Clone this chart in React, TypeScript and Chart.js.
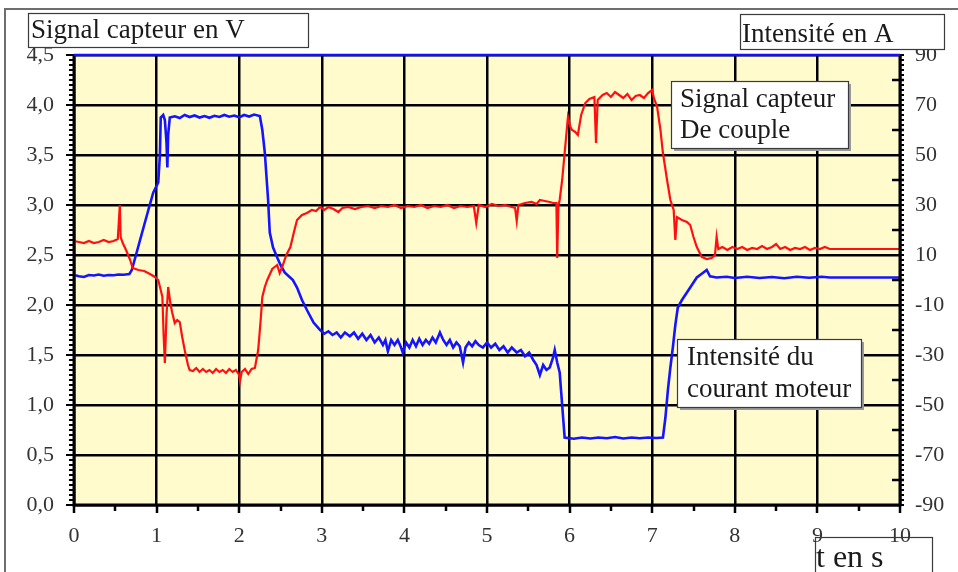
import React, { useEffect, useRef } from "react";
import { Chart, registerables } from "chart.js";

Chart.register(...registerables);

// Signal capteur de couple (V) — left axis
const redTimes = [
  0.0, 0.06, 0.12, 0.18, 0.24, 0.3, 0.36, 0.42, 0.48, 0.53, 0.555, 0.565, 0.59, 0.63, 0.68, 0.71, 0.78, 0.85, 0.92, 0.98,
  1.02, 1.05, 1.07, 1.085, 1.1, 1.12, 1.14, 1.17, 1.19, 1.22, 1.25, 1.28, 1.31, 1.34, 1.38, 1.4, 1.44, 1.48, 1.52, 1.56,
  1.6, 1.64, 1.68, 1.72, 1.76, 1.8, 1.84, 1.88, 1.92, 1.96, 2.0, 2.01, 2.03, 2.07, 2.11, 2.15, 2.19, 2.23, 2.26, 2.28,
  2.31, 2.34, 2.4, 2.46, 2.49, 2.52, 2.57, 2.62, 2.66, 2.7, 2.76, 2.82, 2.88, 2.93, 2.98, 3.03, 3.08, 3.14, 3.2, 3.25,
  3.32, 3.4, 3.48, 3.56, 3.64, 3.72, 3.8, 3.88, 3.96, 4.04, 4.12, 4.2, 4.28, 4.36, 4.44, 4.52, 4.6, 4.68, 4.76, 4.84,
  4.87, 4.9, 4.98, 5.06, 5.14, 5.22, 5.3, 5.34, 5.36, 5.38, 5.46, 5.54, 5.6, 5.64, 5.7, 5.76, 5.8, 5.84, 5.85, 5.865,
  5.88, 5.91, 5.94, 5.98, 6.01, 6.03, 6.07, 6.1, 6.14, 6.19, 6.24, 6.3, 6.32, 6.34, 6.4, 6.45, 6.5, 6.55, 6.6, 6.65,
  6.7, 6.75, 6.8, 6.85, 6.9, 6.95, 7.0, 7.02, 7.06, 7.1, 7.13, 7.18, 7.22, 7.26, 7.28, 7.3, 7.36, 7.42, 7.46, 7.5,
  7.54, 7.6, 7.66, 7.72, 7.76, 7.78, 7.8, 7.85, 7.91, 7.97, 8.03, 8.09, 8.15, 8.21, 8.27, 8.33, 8.39, 8.45, 8.5, 8.55,
  8.61, 8.67, 8.73, 8.79, 8.85, 8.91, 8.97, 9.03, 9.09, 9.15, 10.0,
];
const redValues = [
  2.64, 2.63, 2.62, 2.64, 2.62, 2.63, 2.65, 2.63, 2.64, 2.66, 3.0, 2.68, 2.62, 2.55, 2.45, 2.37, 2.35, 2.34, 2.31, 2.28,
  2.25, 2.15, 2.08, 1.7, 1.42, 1.9, 2.18, 2.0, 1.92, 1.82, 1.85, 1.83, 1.68, 1.55, 1.4, 1.35, 1.34, 1.37, 1.33, 1.36,
  1.33, 1.35, 1.32, 1.36, 1.33, 1.35, 1.32, 1.36, 1.33, 1.35, 1.3, 1.24, 1.33, 1.36, 1.31, 1.36, 1.37, 1.55, 1.85, 2.08,
  2.18, 2.25, 2.36, 2.4, 2.32, 2.38, 2.5, 2.58, 2.72, 2.85, 2.9, 2.92, 2.95, 2.94, 2.98, 2.95, 2.98, 2.96, 2.93, 2.97,
  2.98, 2.96, 2.98, 2.99, 2.97, 2.99, 2.98, 3.0, 2.97, 2.99, 2.98, 3.0, 2.97, 2.99, 2.98, 3.0, 2.97, 2.99, 2.98, 2.99,
  2.82, 3.0, 2.98, 3.01, 2.99, 3.0, 2.98, 2.97, 2.84, 3.0, 3.02, 3.03, 3.01, 3.05, 3.04, 3.03, 3.02, 3.02, 2.47, 3.0,
  3.05, 3.25, 3.52, 3.88, 3.78, 3.75, 3.73, 3.7, 3.9, 4.02, 4.06, 4.08, 3.62, 4.05, 4.1, 4.12, 4.08, 4.13, 4.1, 4.07,
  4.11, 4.05, 4.09, 4.1, 4.07, 4.12, 4.15, 4.07, 3.98, 3.75, 3.52, 3.25, 3.05, 2.95, 2.65, 2.88, 2.85, 2.83, 2.8, 2.68,
  2.58, 2.48, 2.46, 2.47, 2.5, 2.68, 2.56, 2.58, 2.55, 2.58, 2.56, 2.58, 2.55, 2.57, 2.56, 2.59, 2.56, 2.58, 2.61, 2.56,
  2.58, 2.55, 2.57, 2.56, 2.58, 2.55, 2.57, 2.56, 2.58, 2.56, 2.56,
];

// Intensité du courant moteur (A) — right axis
const blueTimes = [
  0.0, 0.06, 0.12, 0.18, 0.24, 0.3, 0.36, 0.42, 0.48, 0.54, 0.6, 0.67, 0.7, 0.75, 0.8, 0.85, 0.9, 0.96, 1.02, 1.04,
  1.05, 1.08, 1.1, 1.12, 1.13, 1.14, 1.16, 1.22, 1.28, 1.34, 1.4, 1.46, 1.52, 1.58, 1.64, 1.7, 1.76, 1.82, 1.88, 1.94,
  2.0, 2.06, 2.12, 2.18, 2.25, 2.28, 2.31, 2.35, 2.37, 2.41, 2.46, 2.5, 2.55, 2.6, 2.65, 2.7, 2.76, 2.82, 2.9, 2.98,
  3.03, 3.08, 3.13, 3.18, 3.23, 3.28, 3.34, 3.39, 3.44, 3.49, 3.54, 3.59, 3.64, 3.69, 3.74, 3.77, 3.8, 3.84, 3.88, 3.92,
  3.96, 3.98, 4.02, 4.06, 4.1, 4.14, 4.18, 4.22, 4.26, 4.3, 4.34, 4.38, 4.43, 4.47, 4.51, 4.55, 4.59, 4.63, 4.67, 4.71,
  4.74, 4.78, 4.82, 4.86, 4.9, 4.95, 5.0, 5.05, 5.1, 5.15, 5.2, 5.25, 5.3, 5.36, 5.41, 5.46, 5.51, 5.56, 5.6, 5.64,
  5.68, 5.72, 5.76, 5.8, 5.82, 5.85, 5.88, 5.91, 5.94, 6.05, 6.15, 6.25, 6.35, 6.45, 6.55, 6.65, 6.75, 6.85, 6.95, 7.05,
  7.13, 7.16, 7.19, 7.22, 7.25, 7.28, 7.31, 7.36, 7.42, 7.48, 7.54, 7.6, 7.66, 7.7, 7.78, 7.9, 8.0, 8.15, 8.3, 8.45,
  8.6, 8.75, 8.9, 9.05, 9.15, 10.0,
];
const blueValues = [
  2, 1.5, 1.2, 2, 1.8, 2.2, 1.7, 2, 1.9, 2.2, 2.1, 2.4, 4, 10, 16, 22, 28, 35, 39, 50,
  65, 66, 64, 55, 45, 58, 65, 65.5, 64.8, 66, 65.2, 65.8, 65, 65.6, 64.9, 65.7, 65.2, 66, 65.3, 65.8,
  65.1, 66, 65.4, 66.2, 65.6, 60, 51, 32, 19, 13, 9, 6, 3, 1.5, 0, -3, -8, -12, -17, -20,
  -21.5, -20.5, -22, -21, -23, -21, -22.5, -21, -23.5, -21.5, -24, -22, -25, -23, -26, -24, -28.5, -24, -26, -24,
  -27, -29, -25, -27, -24, -26.5, -23.5, -26, -24, -25.5, -23, -25, -21, -24, -26, -24, -27, -25, -26.5, -33,
  -27, -25, -26.5, -24.5, -26, -27, -25, -27, -25.5, -28, -26.5, -29, -27, -29, -28, -30.5, -29, -32, -34, -38,
  -34, -36, -35, -31, -28, -33, -37, -50, -63, -63.5, -63, -63.4, -63, -63.3, -62.8, -63.4, -63, -63.3, -63, -63.2,
  -63, -55, -44, -35, -27, -18, -11, -8, -5, -2, 1, 2.5, 4, 1.5, 1, 1.3, 0.8, 1.3, 0.8, 1.2,
  0.7, 1.3, 0.9, 1.3, 1, 1,
];

const leftTicksMin = 0;
const leftTicksMax = 4.5;
const rightTicksMin = -90;
const rightTicksMax = 90;
const timeMin = 0;
const timeMax = 10;

const SERIF = "'Liberation Serif', 'Times New Roman', serif";

function drawBox(ctx: CanvasRenderingContext2D, x: number, y: number, w: number, h: number, shadow: boolean) {
  ctx.save();
  if (shadow) {
    ctx.fillStyle = "#9a9a9a";
    ctx.fillRect(x + 3, y + 3, w, h);
  }
  ctx.fillStyle = "#ffffff";
  ctx.fillRect(x, y, w, h);
  ctx.strokeStyle = "#3a3a3a";
  ctx.lineWidth = 1.2;
  ctx.strokeRect(x + 0.5, y + 0.5, w, h);
  ctx.restore();
}

const decorPlugin = {
  id: "decor",
  beforeDraw(chart: any) {
    const { ctx, chartArea } = chart;
    ctx.save();
    ctx.fillStyle = "#ffffff";
    ctx.fillRect(0, 0, chart.width, chart.height);
    ctx.strokeStyle = "#6e6e6e";
    ctx.lineWidth = 2;
    ctx.beginPath();
    ctx.moveTo(5, chart.height);
    ctx.lineTo(5, 9);
    ctx.lineTo(chart.width, 9);
    ctx.stroke();
    ctx.fillStyle = "#fffbcc";
    ctx.fillRect(chartArea.left, chartArea.top, chartArea.right - chartArea.left, chartArea.bottom - chartArea.top);
    ctx.restore();
  },
  afterDraw(chart: any) {
    const { ctx, chartArea, scales } = chart;
    const { left, right, top, bottom } = chartArea;
    const yL = scales.y;
    const yR = scales.y1;
    const x = scales.x;
    ctx.save();
    ctx.strokeStyle = "#000000";
    ctx.lineWidth = 2;
    for (let i = 0; i <= 90; i++) {
      const v = leftTicksMin + (i * (leftTicksMax - leftTicksMin)) / 90;
      const py = Math.round(yL.getPixelForValue(v));
      const len = i % 10 === 0 ? 8 : 5;
      ctx.beginPath();
      ctx.moveTo(left - len, py);
      ctx.lineTo(left, py);
      ctx.stroke();
    }
    for (let i = 0; i <= 90; i++) {
      const v = rightTicksMin + (i * (rightTicksMax - rightTicksMin)) / 90;
      const py = Math.round(yR.getPixelForValue(v));
      ctx.beginPath();
      ctx.moveTo(right, py);
      ctx.lineTo(right + 4, py);
      ctx.stroke();
    }
    ctx.lineWidth = 2.5;
    for (let v = rightTicksMin + 10; v < rightTicksMax; v += 20) {
      const py = Math.round(yR.getPixelForValue(v));
      ctx.beginPath();
      ctx.moveTo(right - 8, py);
      ctx.lineTo(right + 4, py);
      ctx.stroke();
    }
    for (let i = 0; i <= 20; i++) {
      const v = timeMin + (i * (timeMax - timeMin)) / 20;
      const px = Math.round(x.getPixelForValue(v));
      const len = i % 2 === 0 ? 8 : 6;
      ctx.lineWidth = 2.5;
      ctx.beginPath();
      ctx.moveTo(px, bottom);
      ctx.lineTo(px, bottom + len);
      ctx.stroke();
    }
    ctx.lineWidth = 3;
    ctx.beginPath();
    ctx.moveTo(left, top);
    ctx.lineTo(left, bottom);
    ctx.lineTo(right, bottom);
    ctx.lineTo(right, top);
    ctx.stroke();
    ctx.strokeStyle = "#1010ff";
    ctx.lineWidth = 2.5;
    ctx.beginPath();
    ctx.moveTo(left, top);
    ctx.lineTo(right, top);
    ctx.stroke();

    ctx.textBaseline = "alphabetic";
    ctx.textAlign = "left";

    drawBox(ctx, 28, 13, 280, 34, false);
    ctx.fillStyle = "#1a1a1a";
    ctx.font = `27px ${SERIF}`;
    ctx.fillText("Signal capteur en V", 31, 38);

    drawBox(ctx, 740, 14, 204, 35, false);
    ctx.fillStyle = "#1a1a1a";
    ctx.font = `27px ${SERIF}`;
    ctx.fillText("Intensité en A", 742, 42);

    drawBox(ctx, 671, 81, 177, 67, true);
    ctx.fillStyle = "#1a1a1a";
    ctx.font = `27px ${SERIF}`;
    ctx.fillText("Signal capteur", 680, 107);
    ctx.fillText("De couple", 680, 138);

    drawBox(ctx, 677, 339, 184, 68, true);
    ctx.fillStyle = "#1a1a1a";
    ctx.font = `27px ${SERIF}`;
    ctx.fillText("Intensité du", 687, 365);
    ctx.fillText("courant moteur", 687, 397);

    ctx.strokeStyle = "#3a3a3a";
    ctx.lineWidth = 1.2;
    ctx.strokeRect(815.5, 537.5, 117, 40);
    ctx.fillStyle = "#1a1a1a";
    ctx.font = `32px ${SERIF}`;
    ctx.fillText("t en s", 816, 567);
    ctx.restore();
  },
};

export default function App() {
  const canvasRef = useRef<HTMLCanvasElement | null>(null);

  useEffect(() => {
    if (!canvasRef.current) return;
    const redData = redTimes.map((t, i) => ({ x: t, y: redValues[i] }));
    const blueData = blueTimes.map((t, i) => ({ x: t, y: blueValues[i] }));
    const tickFont = { family: SERIF, size: 22 };
    const chart = new Chart(canvasRef.current, {
      type: "line",
      data: {
        datasets: [
          {
            label: "Signal capteur de couple",
            data: redData,
            yAxisID: "y",
            borderColor: "#ff1010",
            borderWidth: 2.2,
            pointRadius: 0,
            tension: 0,
          },
          {
            label: "Intensité du courant moteur",
            data: blueData,
            yAxisID: "y1",
            borderColor: "#1414ff",
            borderWidth: 2.6,
            pointRadius: 0,
            tension: 0,
          },
        ],
      },
      options: {
        animation: false,
        responsive: false,
        devicePixelRatio: 1,
        layout: { padding: { top: 55, left: 0, right: 0, bottom: 0 } },
        plugins: { legend: { display: false }, tooltip: { enabled: false }, title: { display: false } },
        scales: {
          x: {
            type: "linear",
            min: timeMin,
            max: timeMax,
            ticks: { stepSize: 1, font: tickFont, color: "#333333", padding: 18, maxRotation: 0 },
            grid: { color: "#000000", lineWidth: 2.5, drawTicks: false },
            border: { display: false },
            afterFit: (s: any) => {
              s.height = 67;
            },
          },
          y: {
            type: "linear",
            position: "left",
            min: leftTicksMin,
            max: leftTicksMax,
            ticks: {
              stepSize: 0.5,
              font: tickFont,
              color: "#333333",
              padding: 20,
              callback: (v: any) => Number(v).toFixed(1).replace(".", ","),
            },
            grid: { color: "#000000", lineWidth: 2.5, drawTicks: false },
            border: { display: false },
            afterFit: (s: any) => {
              s.width = 74;
            },
          },
          y1: {
            type: "linear",
            position: "right",
            min: rightTicksMin,
            max: rightTicksMax,
            ticks: { stepSize: 10, font: tickFont, color: "#333333", padding: 15 },
            grid: { display: false, drawTicks: false },
            border: { display: false },
            afterFit: (s: any) => {
              s.width = 58;
            },
          },
        },
      },
      plugins: [decorPlugin],
    });
    return () => chart.destroy();
  }, []);

  return (
    <div style={{ position: "absolute", left: 0, top: 0, width: 958, height: 572 }}>
      <canvas ref={canvasRef} width={958} height={572} style={{ width: 958, height: 572, display: "block" }} />
    </div>
  );
}
